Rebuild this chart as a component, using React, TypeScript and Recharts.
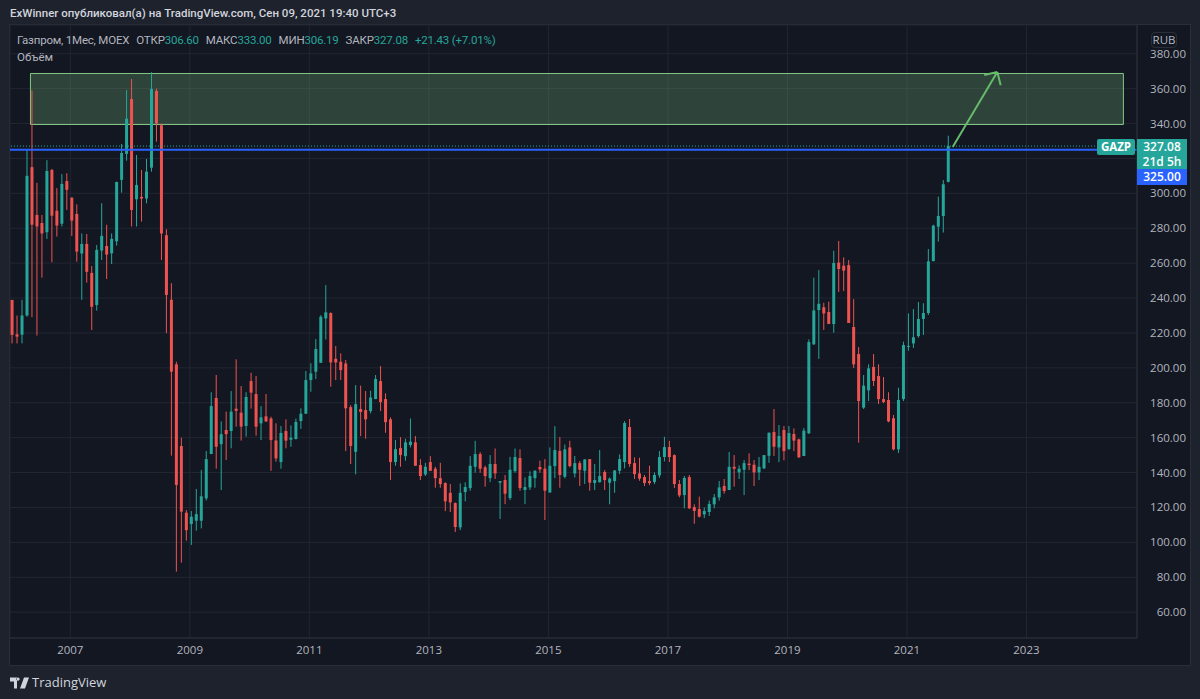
import React from 'react'
import {
  ComposedChart,
  Bar,
  XAxis,
  YAxis,
  CartesianGrid,
  ReferenceArea,
  ReferenceLine,
} from 'recharts'

// monthly candles, Jan 2006 .. Sep 2021
const opens = [
  238.9, 219.2, 219, 230, 315, 287.6, 283, 277.7, 313.4, 290, 282.6, 307,
  297.5, 288.2, 265.5, 271, 254.4, 236, 267.2, 269.8, 265.6, 272.5, 307.7, 322.6,
  354, 296.6, 298, 297, 314.7, 358.7, 339, 276, 239, 202, 155.2, 117,
  110.5, 112.4, 112.4, 125.2, 150.6, 182.7, 156.3, 164.4, 163.8, 176.6, 174.3, 166.7,
  192.4, 185, 168.2, 172.2, 171, 158.4, 146, 163.8, 158.8, 159.2, 169.5, 173.7,
  193, 197.8, 202.9, 228.3, 231.4, 205.2, 203.5, 202.5, 177.5, 151.9, 176.4, 175.8,
  175.2, 182.1, 192.4, 182.1, 170.5, 146, 154, 149.4, 155.8, 157.3, 144.3, 138.9,
  146, 142.2, 136.8, 134, 128.4, 122.5, 108.6, 128.8, 131.1, 143.3, 150.6, 143,
  136.8, 144.9, 134.2, 135.7, 125.4, 140.8, 148.3, 130, 131.5, 136.8, 143.2, 142.2,
  128.6, 143.7, 152.4, 137.6, 154.4, 139.5, 145.4, 141, 147.7, 134, 134.5, 140.3,
  134.2, 135.1, 141, 146, 166.1, 145.4, 139.5, 137.4, 135.1, 134.6, 138.4, 148.9,
  154.6, 150, 133.4, 127.1, 137.4, 120.2, 119.1, 116, 117.4, 121.8, 125.8, 132.3,
  130, 143.3, 140.1, 141.6, 145.1, 144.5, 140.1, 142.4, 149.6, 163.2, 154.4, 164.4,
  153.5, 162.1, 159, 149.5, 162.5, 213.5, 233.1, 234.7, 232, 225.1, 260.3, 258.5,
  258.9, 223.4, 207.9, 177.2, 187.1, 200.5, 195.3, 182.1, 181.6, 171.1, 153.3, 182.1,
  212.1, 214, 218.2, 228, 231.4, 261.2, 280.9, 287, 306.6,
]
const closes = [
  218.9, 217.9, 230, 310, 282, 281, 277, 312.8, 287.2, 281.5, 305.4, 302,
  284.4, 266.6, 271, 255, 235, 267.6, 275.6, 264.9, 273.9, 306.5, 323.1, 342.8,
  290.5, 304.8, 297, 312.4, 359.8, 340, 277, 241.8, 197.8, 132.9, 117.6, 107,
  114.7, 116.2, 126.4, 147.7, 178.1, 154.8, 162, 162, 174.9, 175.4, 166.3, 183.3,
  185.8, 166.3, 171.6, 169.3, 158.6, 148.1, 162.7, 158.3, 160, 169, 173.7, 193,
  196.8, 210.8, 229.3, 231.8, 203.1, 203.1, 198.7, 176.8, 155.2, 179.2, 174.7, 170.5,
  183, 193.6, 180.4, 168.9, 146, 153.4, 150, 157.3, 157.7, 143.9, 138, 143.3,
  141, 136.8, 133.4, 123.5, 122.9, 108.8, 128.4, 131.7, 143.9, 150.6, 142.2, 138,
  144.9, 139.5, 135.1, 127.9, 141.6, 148.9, 131.1, 131.7, 138, 141, 141.8, 129.6,
  143.9, 152.9, 138.6, 153.3, 143.7, 145.4, 141.6, 147.5, 134.2, 135.7, 138, 135.7,
  136.5, 141.2, 147.7, 168.4, 144.9, 139.1, 136.5, 134, 134, 138.6, 148.9, 154.6,
  148.9, 133.4, 126.9, 136.9, 119.5, 118, 114.7, 118, 122, 125.8, 131.5, 129.4,
  143.3, 142.2, 142.2, 145.4, 144.3, 140.1, 143.3, 150, 162.8, 154.8, 161, 152.3,
  162.6, 158.3, 148.7, 164, 214.8, 232.9, 236.7, 231.2, 225.1, 260.1, 256.6, 255.7,
  225.7, 202, 181, 189.8, 199.7, 192.5, 182.1, 180.4, 169.3, 153.3, 181.6, 213.1,
  212.5, 217.5, 228, 231.4, 261, 281.5, 287, 305.2, 327.08,
]
const highs = [
  238.9, 230, 239, 325, 359, 306, 287.6, 319, 314, 303, 311, 311.5,
  297.7, 293.7, 277, 276.7, 258.4, 270.4, 294.3, 282, 277, 306.7, 328.3, 359.2,
  365.5, 322, 313.4, 319.7, 369.4, 360, 340, 279.4, 248.5, 203.5, 160, 118.5,
  118, 130.6, 141.4, 152.3, 186, 195.9, 169.3, 174.9, 186.7, 204.9, 189.6, 186,
  197.2, 195.3, 178.1, 185, 172, 168.2, 166.7, 170.5, 167, 170.9, 176.8, 198.2,
  202.6, 216.5, 230.2, 247.4, 231.8, 212.5, 208.3, 204.5, 178.7, 190.1, 189.8, 186.7,
  186.9, 195.9, 201, 185.4, 171.6, 158.6, 160.3, 159.4, 171, 160.9, 147.7, 145.6,
  149.4, 143.3, 145.6, 134.4, 133.4, 122.9, 133.8, 134.4, 149.4, 158.2, 151.7, 143.9,
  150, 153.8, 135.1, 138.6, 149, 153.8, 153.3, 137.2, 140.7, 141.4, 146.8, 147.7,
  154.4, 166.6, 160.3, 156.1, 158.2, 149.5, 146.6, 147.7, 147.7, 144.9, 152.9, 141.4,
  137.2, 141.4, 150.4, 169.5, 170.7, 148.7, 148.5, 138.6, 143.9, 140.1, 152.3, 160.5,
  158.2, 150.4, 135.7, 138, 138.6, 121.8, 126.2, 120, 123.9, 127.7, 135.1, 136.3,
  151.8, 150, 144.1, 147.2, 151, 147.2, 148.9, 150, 163, 176.4, 167.2, 166.7,
  166.7, 165.3, 159.4, 165.5, 216.3, 251.7, 256, 237.3, 237.9, 267.1, 272.7, 263.3,
  261.8, 239.4, 211.9, 195.9, 202, 207.9, 202, 194.7, 186, 173, 188.6, 215,
  231.2, 233.7, 237.7, 237, 268.1, 282, 298.1, 307.6, 333,
]
const lows = [
  214, 214, 214, 229.3, 229, 218.5, 251.7, 273.9, 260.5, 275.2, 281, 290.5,
  275.6, 260.9, 239, 248.8, 221.7, 232.8, 261.8, 250.9, 259.5, 270, 300.4, 318.7,
  281, 281, 283.8, 294.3, 312.4, 329.6, 261.8, 219.8, 149.7, 83.2, 88.4, 101,
  98.5, 106.7, 108, 124, 150.6, 142.2, 130, 147.2, 153.9, 166.3, 158.3, 160.6,
  176.6, 161.1, 158.6, 169, 141, 146.2, 142.2, 153.9, 154.8, 159, 165, 173.7,
  186.3, 193.6, 202.9, 216.3, 189.2, 193, 193, 152.3, 144.9, 139, 160.9, 159.4,
  173.9, 182.1, 175.2, 162.8, 135.7, 143.9, 143.3, 146.8, 154.4, 143.9, 135.7, 138,
  141, 131.3, 131.3, 117.9, 117.4, 105.9, 107, 123.5, 129.6, 139.9, 139.9, 131.9,
  134.5, 136.3, 113.4, 121.9, 124.2, 139.9, 129.6, 121.9, 130, 131.3, 139.9, 112.8,
  128.4, 136.8, 131.3, 136.7, 143, 137.2, 132.3, 133.4, 129.6, 130, 134.2, 130,
  121.8, 128.4, 139.1, 142.4, 143.3, 136.3, 135.3, 132.3, 132.8, 133.4, 137, 146.4,
  146, 131.1, 125.8, 119.5, 119.1, 110.7, 114.3, 113.9, 115.1, 119.5, 123.9, 127.9,
  130, 131.9, 136.3, 127.1, 141.4, 132.3, 135.7, 142, 145.6, 149.5, 146, 147,
  152.9, 152.3, 148.5, 149.5, 162.1, 213.1, 205.1, 221.7, 225.1, 220.1, 243.5, 244,
  225.7, 199.9, 157.1, 176.4, 181, 189.6, 179.3, 179.8, 168.8, 152.7, 151.2, 181,
  209.8, 211.4, 217.3, 218.8, 230.3, 261, 272.3, 277.5, 306.19,
]

const xTicks = [12, 36, 60, 84, 108, 132, 156, 180, 204]
const yTicks = [60, 80, 100, 120, 140, 160, 180, 200, 220, 240, 260, 280, 300, 320, 340, 360, 380]
const zone = { x1: 4.0, x2: 223.47, y1: 339.44, y2: 368.66 }
const arrowShaft = [{ x: 189.19, y: 326.5 }, { x: 198.15, y: 369.5 }]
const arrowHeadLeft = [{ x: 195.53, y: 367.8 }, { x: 198.15, y: 369.5 }]
const arrowHeadRight = [{ x: 198.83, y: 361.9 }, { x: 198.15, y: 369.5 }]

const UP = '#26a69a'
const DOWN = '#ef5350'
const FONT = '"Open Sans", "Noto Sans", sans-serif'
const TEXT_FONT = 'Roboto, "Noto Sans", sans-serif'

const candles = opens.map((o, i) => ({
  t: i,
  o,
  c: closes[i],
  h: highs[i],
  l: lows[i],
  range: [lows[i], highs[i]],
}))

function Candle(props: any) {
  const { x, y, width, height, payload } = props
  const { o, c, h, l } = payload
  const perUnit = height / (h - l)
  const top = y + (h - Math.max(o, c)) * perUnit
  const bottom = y + (h - Math.min(o, c)) * perUnit
  const color = c >= o ? UP : DOWN
  // recharts leaves the bar a little left of the tick on a number axis
  const mid = x + width / 2 + 1.5
  return (
    <g>
      <line x1={mid} x2={mid} y1={y} y2={y + height} stroke={color} strokeWidth={1} />
      <rect x={mid - 1.5} y={top} width={3} height={Math.max(bottom - top, 1)} fill={color} />
    </g>
  )
}

function PriceTick(props: any) {
  const { x, y, payload } = props
  if (payload.value === 320) return <g />
  return (
    <text x={x + 41} y={y + 4} textAnchor="end" fill="#b2b5be" fontSize={11.5} fontFamily={FONT}>
      {payload.value.toFixed(2)}
    </text>
  )
}

const legendLabel = { color: '#b2b5be' }
const legendValue = { color: UP }
const legendGap = { marginLeft: 7 }

export default function App() {
  return (
    <div style={{ position: 'absolute', left: 0, top: 0, width: 1200, height: 699, background: '#1e222d', fontFamily: TEXT_FONT, overflow: 'hidden' }}>
      <div style={{ position: 'absolute', left: 9, top: 24, width: 1180, height: 640, background: '#131722', border: '1px solid #2a2e39' }} />

      <div style={{ position: 'absolute', left: 0, top: 0 }}>
        <ComposedChart
          width={1200}
          height={699}
          data={candles}
          margin={{ top: 25, right: 10, bottom: 35, left: 10 }}
        >
          <CartesianGrid stroke="#222632" strokeWidth={1} />
          <XAxis
            dataKey="t"
            type="number"
            scale="linear"
            domain={[-0.108, 226.2]}
            allowDataOverflow
            ticks={xTicks}
            tickFormatter={(t: number) => String(2006 + t / 12)}
            height={26}
            tickLine={false}
            axisLine={{ stroke: '#2a2e39' }}
            tick={{ fill: '#b2b5be', fontSize: 11.5, fontFamily: FONT }}
            tickMargin={2}
          />
          <YAxis
            orientation="right"
            type="number"
            domain={[45.2, 396.45]}
            allowDataOverflow
            ticks={yTicks}
            interval={0}
            width={53}
            tickLine={false}
            axisLine={{ stroke: '#2a2e39' }}
            tick={(p: any) => <PriceTick {...p} />}
          />
          <ReferenceArea
            x1={zone.x1}
            x2={zone.x2}
            y1={zone.y1}
            y2={zone.y2}
            fill="#81c784"
            fillOpacity={0.25}
            stroke="#81c784"
            strokeOpacity={1}
            strokeWidth={1}
          />
          <ReferenceLine y={327.08} stroke={UP} strokeDasharray="1 2" strokeWidth={1} />
          <ReferenceLine y={325} stroke="#2962ff" strokeWidth={2} />
          <Bar dataKey="range" barSize={3} shape={(p: any) => <Candle {...p} />} isAnimationActive={false} />
          <ReferenceLine segment={arrowShaft} stroke="#66bb6a" strokeWidth={2} />
          <ReferenceLine segment={arrowHeadLeft} stroke="#66bb6a" strokeWidth={2} />
          <ReferenceLine segment={arrowHeadRight} stroke="#66bb6a" strokeWidth={2} />
        </ComposedChart>
      </div>

      <div style={{ position: 'absolute', left: 10, top: 6, fontSize: 11.5, fontWeight: 500, color: '#d1d4dc', whiteSpace: 'nowrap' }}>
        ExWinner опубликовал(а) на TradingView.com, Сен 09, 2021 19:40 UTC+3
      </div>

      <div style={{ position: 'absolute', left: 17, top: 33, fontSize: 11.5, letterSpacing: -0.2, whiteSpace: 'pre', ...legendLabel }}>
        <span>Газпром, 1Мес, MOEX</span>
        <span style={legendGap}>ОТКР</span>
        <span style={legendValue}>306.60</span>
        <span style={legendGap}>МАКС</span>
        <span style={legendValue}>333.00</span>
        <span style={legendGap}>МИН</span>
        <span style={legendValue}>306.19</span>
        <span style={legendGap}>ЗАКР</span>
        <span style={legendValue}>327.08</span>
        <span style={{ ...legendValue, ...legendGap }}>+21.43 (+7.01%)</span>
      </div>
      <div style={{ position: 'absolute', left: 17, top: 50, fontSize: 11.5, ...legendLabel }}>Объём</div>

      <div style={{ position: 'absolute', left: 1151, top: 32, width: 24, height: 14, border: '1px solid #2a2e39', borderRadius: 4, textAlign: 'center', fontSize: 11.5, lineHeight: '14px', color: '#b2b5be', fontFamily: FONT }}>
        RUB
      </div>

      <div style={{ position: 'absolute', left: 1097, top: 139, width: 38, height: 16, background: UP, borderRadius: 2, textAlign: 'center', color: '#fff', fontSize: 11.5, fontWeight: 700, lineHeight: '16px', fontFamily: FONT }}>
        GAZP
      </div>
      <div style={{ position: 'absolute', left: 1137, top: 139, width: 50, height: 30, background: UP, textAlign: 'center', color: '#fff', fontSize: 12, lineHeight: '15px', fontWeight: 600, fontFamily: FONT }}>
        327.08
        <br />
        21d 5h
      </div>
      <div style={{ position: 'absolute', left: 1137, top: 169, width: 50, height: 16, background: '#2962ff', textAlign: 'center', color: '#fff', fontSize: 12, lineHeight: '16px', fontWeight: 600, fontFamily: FONT }}>
        325.00
      </div>

      <svg style={{ position: 'absolute', left: 10, top: 677 }} width={19} height={12} viewBox="0 0 19 12">
        <path d="M0 0h7v11H4V4H0z M8 0a1.6 1.6 0 1 0 .01 0z M14 0h5l-4 11h-5z" fill="#d1d4dc" transform="translate(0,0.5)" />
      </svg>
      <div style={{ position: 'absolute', left: 32, top: 673, fontSize: 13, fontWeight: 500, color: '#d1d4dc', whiteSpace: 'nowrap', fontFamily: FONT }}>TradingView</div>
    </div>
  )
}
